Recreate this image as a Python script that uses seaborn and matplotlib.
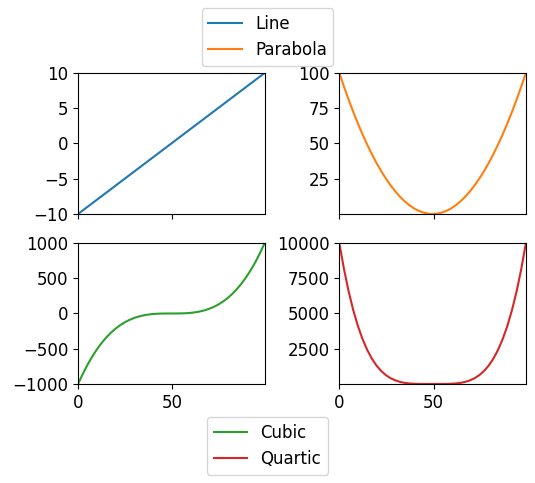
import matplotlib
matplotlib.use("Agg")
import matplotlib.pyplot as plt
import seaborn as sns

# Sample positions (index along the curve) and values
pos = [0, 2.475, 4.95, 7.425, 9.9, 12.375, 14.85, 17.325, 19.8, 22.275,
       24.75, 27.225, 29.7, 32.175, 34.65, 37.125, 39.6, 42.075, 44.55,
       47.025, 49, 50, 51.975, 54.45, 56.925, 59.4, 61.875, 64.35, 66.825,
       69.3, 71.775, 74.25, 76.725, 79.2, 81.675, 84.15, 86.625, 89.1,
       91.575, 94.05, 96.525, 99]
line = [-10, -9.5, -9, -8.5, -8, -7.5, -7, -6.5, -6, -5.5, -5, -4.5, -4,
        -3.5, -3, -2.5, -2, -1.5, -1, -0.5, -0.1,
        0.1, 0.5, 1, 1.5, 2, 2.5, 3, 3.5, 4, 4.5, 5, 5.5, 6, 6.5, 7, 7.5,
        8, 8.5, 9, 9.5, 10]
parabola = [100, 90.25, 81, 72.25, 64, 56.25, 49, 42.25, 36, 30.25, 25,
            20.25, 16, 12.25, 9, 6.25, 4, 2.25, 1, 0.25, 0.01,
            0.01, 0.25, 1, 2.25, 4, 6.25, 9, 12.25, 16, 20.25, 25, 30.25,
            36, 42.25, 49, 56.25, 64, 72.25, 81, 90.25, 100]
cubic = [-1000, -857.4, -729, -614.1, -512, -421.9, -343, -274.6, -216,
         -166.4, -125, -91.1, -64, -42.9, -27, -15.6, -8, -3.4, -1, -0.125,
         -0.001,
         0.001, 0.125, 1, 3.4, 8, 15.6, 27, 42.9, 64, 91.1, 125, 166.4, 216,
         274.6, 343, 421.9, 512, 614.1, 729, 857.4, 1000]
quartic = [10000, 8145, 6561, 5220, 4096, 3164, 2401, 1785, 1296, 915, 625,
           410, 256, 150, 81, 39, 16, 5.1, 1, 0.06, 0.0001,
           0.0001, 0.06, 1, 5.1, 16, 39, 81, 150, 256, 410, 625, 915, 1296,
           1785, 2401, 3164, 4096, 5220, 6561, 8145, 10000]

names = ["Line", "Parabola", "Cubic", "Quartic"]
series = [line, parabola, cubic, quartic]
colors = ["#1f77b4", "#ff7f0e", "#2ca02c", "#d62728"]

plt.rcParams["font.size"] = 12
plt.rcParams["axes.xmargin"] = 0
plt.rcParams["axes.ymargin"] = 0

fig, axes = plt.subplots(2, 2, sharex=True, figsize=(5.35, 4.83), dpi=100)
fig.subplots_adjust(left=0.146, right=0.983, top=0.849, bottom=0.205,
                    wspace=0.40, hspace=0.206)

handles = []
for ax, name, y, c in zip(axes.flat, names, series, colors):
    sns.lineplot(x=pos, y=y, ax=ax, color=c, label=name, legend=False)
    handles.append(ax.get_lines()[0])
    ax.set_xticks([0, 50])

fig.legend(handles=handles[:2], loc="upper center", bbox_to_anchor=(0.5, 1.0))
fig.legend(handles=handles[2:], loc="lower center", bbox_to_anchor=(0.5, 0.0))

fig.savefig("out.png", dpi=100)
